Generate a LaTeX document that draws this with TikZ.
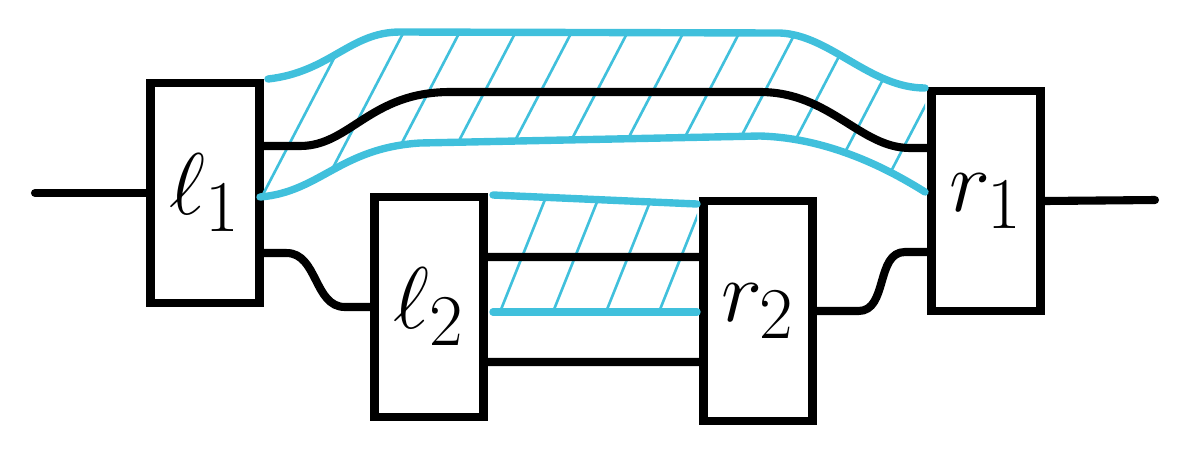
\documentclass[tikz,border=0pt]{standalone}
\usepackage{tikz}
\definecolor{bandblue}{RGB}{64,192,220}

\begin{document}
\begin{tikzpicture}[
  x=0.01cm, y=-0.01cm,
  every node/.style={font=\Huge},
  block/.style={draw, line width=2.3pt, fill=white, minimum width=1.09cm, minimum height=2.2cm, inner sep=0pt},
  wire/.style={line width=2.3pt, line cap=round, line join=round},
  bandedge/.style={bandblue, line width=2.1pt, line cap=round},
  hatch/.style={bandblue, line width=0.75pt},
]
\useasboundingbox (0,0) rectangle (1187,463);

% Boxes
\node[block] (l1) at (205,193) {$\ell_1$};
\node[block] (l2) at (429,307) {$\ell_2$};
\node[block] (r2) at (758,311) {$r_2$};
\node[block] (r1) at (986,201) {$r_1$};

% Loose ends
\coordinate (in) at (35,193);
\coordinate (out) at (1155,200);

% Upper band, hatched
\begin{scope}
  \clip (260,197) .. controls (320,192) and (340,148) .. (420,143) -- (760,136) .. controls (830,138) and (890,170) .. (925,192)
    -- (925,88) .. controls (870,88) and (830,35) .. (780,33) -- (400,32) .. controls (350,32) and (330,72) .. (268,79) -- cycle;
  \foreach \x in {262,318,...,934}
    \draw[hatch] (\x-16,227) -- ++(120,-230);
\end{scope}
\draw[bandedge] (268,79) .. controls (330,72) and (350,32) .. (400,32) -- (780,33) .. controls (830,35) and (870,88) .. (925,88);
\draw[bandedge] (260,197) .. controls (320,192) and (340,148) .. (420,143) -- (760,136) .. controls (830,138) and (890,170) .. (925,192);

% Lower band, hatched
\begin{scope}
  \clip (493,195) -- (697,204) -- (697,312) -- (493,312) -- cycle;
  \foreach \x in {500,553,...,659}
    \draw[hatch] (\x-6,327) -- ++(54,-135);
\end{scope}
\draw[bandedge] (493,195) -- (697,204);
\draw[bandedge] (493,312) -- (697,312);

% Wires
\draw[wire] (in) -- (in -| l1.west);
\draw[wire] (r1.east) -- (out);
\draw[wire] ([yshift=0.47cm]l1.east) -- (300,146) .. controls (350,146) and (370,92) .. (450,92)
  -- (760,92) .. controls (830,92) and (860,148) .. (910,148) -- ([yshift=0.53cm]r1.west);
\draw[wire] ([yshift=-0.6cm]l1.east) -- ++(23,0) to[out=0,in=180] (345,307) -- (l2.west);
\draw[wire] ([yshift=0.5cm]l2.east) -- ([yshift=0.54cm]r2.west);
\draw[wire] ([yshift=-0.55cm]l2.east) -- ([yshift=-0.51cm]r2.west);
\draw[wire] (r2.east) -- ++(42,0) to[out=0,in=180] (905,252) -- ([yshift=-0.51cm]r1.west);

\end{tikzpicture}
\end{document}
